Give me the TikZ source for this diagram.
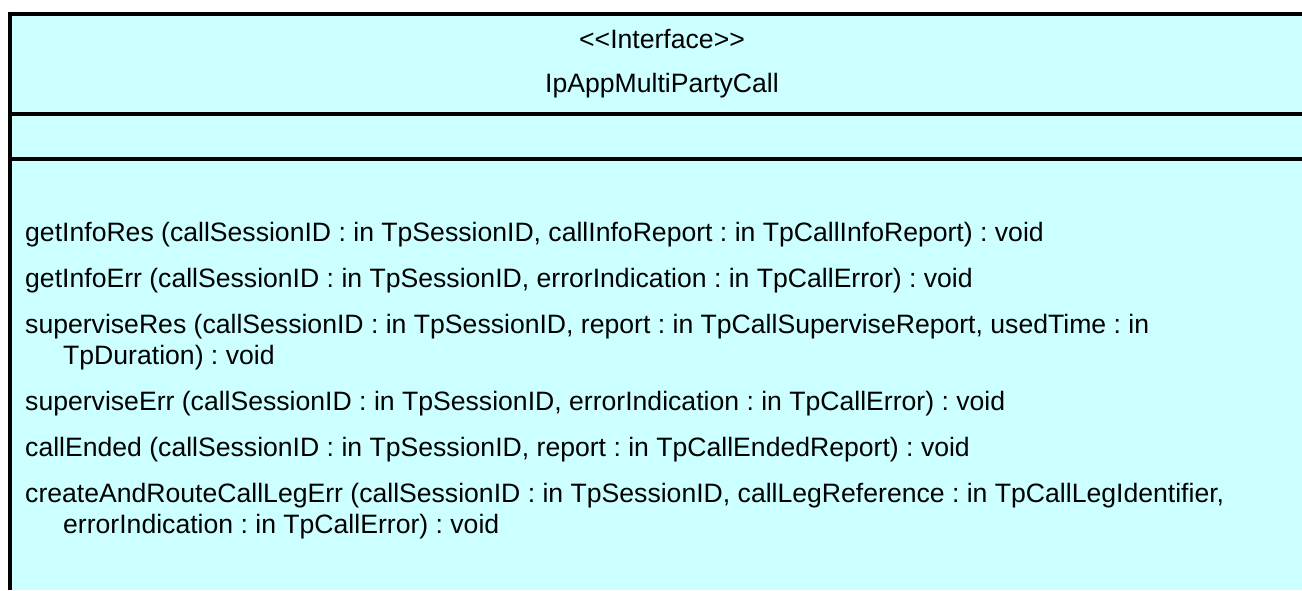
\documentclass[tikz,border=0pt]{standalone}
\usepackage{fontspec}
\setmainfont{Liberation Sans}
\frenchspacing
\definecolor{boxfill}{HTML}{CCFFFF}
\tikzset{
  x=1pt, y=1pt,
  border/.style={line width=4pt, black},
  title/.style={anchor=base, inner sep=0pt, font=\fontsize{26.6}{31}\selectfont},
  method/.style={anchor=base west, inner sep=0pt, font=\fontsize{26.6}{31}\selectfont},
}
\begin{document}
\begin{tikzpicture}
\useasboundingbox (0,0) rectangle (1302,-590);
\fill[boxfill] (10,-13.5) rectangle (1302,-590);
\coordinate (tl) at (8,-13.5);
\coordinate (tr) at (1302,-13.5);
\coordinate (lt) at (10,-11.5);
\coordinate (bl) at (10,-590);
\coordinate (d1l) at (10,-113.5);
\coordinate (d1r) at (1302,-113.5);
\coordinate (d2l) at (10,-159);
\coordinate (d2r) at (1302,-159);
\draw[border] (tl) -- (tr);
\draw[border] (lt) -- (bl);
\draw[border] (d1l) -- (d1r);
\draw[border] (d2l) -- (d2r);
\node[title] (stereo) at (662,-48) {<\kern0pt<Interface>\kern0pt>};
\node[title] (name) at (662,-92) {IpAppMultiPartyCall};
\node[method] (m1) at (25,-241) {getInfoRes (callSessionID : in TpSessionID, callInfoReport : in TpCallInfoReport) : void};
\node[method] (m2) at (25,-287) {getInfoErr (callSessionID : in TpSessionID, errorIndication : in TpCallError) : void};
\node[method] (m3) at (25,-333) {superviseRes (callSessionID : in TpSessionID, report : in TpCallSuperviseReport, usedTime : in};
\node[method] (m3b) at (63,-364) {TpDuration) : void};
\node[method] (m4) at (25,-410) {superviseErr (callSessionID : in TpSessionID, errorIndication : in TpCallError) : void};
\node[method] (m5) at (25,-456) {callEnded (callSessionID : in TpSessionID, report : in TpCallEndedReport) : void};
\node[method] (m6) at (25,-502) {createAndRouteCallLegErr (callSessionID : in TpSessionID, callLegReference : in TpCallLegIdentifier,};
\node[method] (m6b) at (63,-533) {errorIndication : in TpCallError) : void};
\end{tikzpicture}
\end{document}
